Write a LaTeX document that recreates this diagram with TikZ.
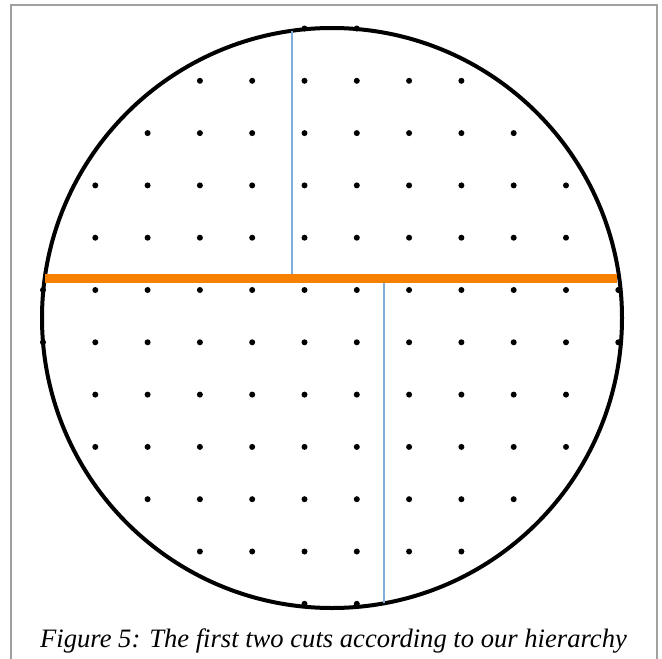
\documentclass[tikz,border=0pt]{standalone}
\usepackage{fontspec}
\setmainfont{Liberation Serif}
\definecolor{cutorange}{RGB}{246,128,0}
\definecolor{cutblue}{RGB}{128,174,220}
\definecolor{framegray}{RGB}{160,160,160}
\begin{document}
\begin{tikzpicture}[x=1pt,y=-1pt,
  frameline/.style={draw=framegray,line width=2pt},
  wafer/.style={draw=black,line width=4pt},
  firstcut/.style={draw=cutorange,line width=9pt},
  secondcut/.style={draw=cutblue,line width=2pt},
  chipdot/.style={fill=black,draw=none},
  captiontext/.style={font=\fontsize{26.6}{31}\selectfont\itshape,inner sep=0pt,anchor=base}]
\useasboundingbox (0,0) rectangle (662,659);
% frame
\coordinate (fbl) at (11,670);
\coordinate (ftl) at (11,5);
\coordinate (ftr) at (657,5);
\coordinate (fbr) at (657,670);
\draw[frameline] (fbl) -- (ftl) -- (ftr) -- (fbr);
% lattice points
\foreach \i in {0,...,11}{
  \foreach \j in {0,...,11}{
    \pgfmathtruncatemacro{\dd}{(2*\i-11)*(2*\i-11)+(2*\j-11)*(2*\j-11)}
    \ifnum\dd<125
      \fill[chipdot] ({43+52.3*\i},{28.5+52.3*\j}) circle (3);
    \fi
  }
}
% wafer
\coordinate (c) at (332,318);
\draw[wafer] (c) circle (290);
% cuts
\coordinate (oL) at (45,278);
\coordinate (oR) at (617,278);
\coordinate (b1t) at (292,31);
\coordinate (b1b) at (292,273.5);
\coordinate (b2t) at (384,282.5);
\coordinate (b2b) at (384,603);
\draw[secondcut] (b1t) -- (b1b);
\draw[secondcut] (b2t) -- (b2b);
\draw[firstcut] (oL) -- (oR);
% caption
\node[captiontext] (cap) at (333.5,647) {Figure 5: The first two cuts according to our hierarchy};
\end{tikzpicture}
\end{document}
